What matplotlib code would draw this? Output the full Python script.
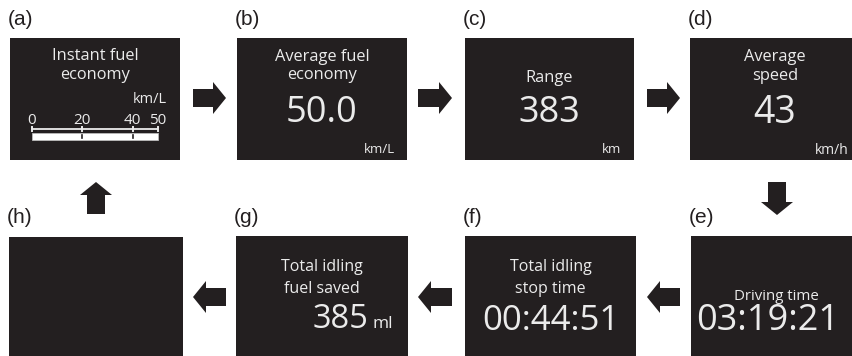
import matplotlib
matplotlib.use("Agg")
import matplotlib.pyplot as plt
from matplotlib.patches import Rectangle, Polygon

# ---------------------------------------------------------------------------
# Content
# ---------------------------------------------------------------------------
panel_labels = ["(a)", "(b)", "(c)", "(d)", "(e)", "(f)", "(g)", "(h)"]
panel_titles = [
    ["Instant fuel", "economy"],
    ["Average fuel", "economy"],
    ["Range"],
    ["Average", "speed"],
    ["Driving time"],
    ["Total idling", "stop time"],
    ["Total idling", "fuel saved"],
    [],
]
panel_values = ["", "50.0", "383", "43", "03:19:21", "00:44:51", "385", ""]
panel_units = ["km/L", "km/L", "km", "km/h", "", "", "ml", ""]
scale_ticks = [0, 20, 40, 50]
scale_max = 50

# ---------------------------------------------------------------------------
# Layout (pixel coordinates, y downwards)
# ---------------------------------------------------------------------------
W, H = 853, 356
box_left = [10, 237, 465, 690, 691, 465, 236, 9]
box_width = [170, 170, 169, 170, 170, 171, 172, 174]
box_top = [38, 38, 38, 38, 236, 236, 236, 237]
box_height = [122, 122, 122, 122, 130, 130, 130, 130]
label_base = [25, 25, 25, 25, 223, 223, 223, 223]

title_base = [[60, 79], [61, 79], [82], [61, 80], [300], [271, 293], [271, 293], []]
value_base = [0, 122, 122, 123, 330, 330, 328, 0]
value_size = [0, 26, 26, 27, 26, 25, 23.5, 0]
value_shift = [0, 0, 0, 0, -8, 0, 0, 0]
unit_base = [103, 153, 153, 154, 0, 0, 328, 0]
unit_size = [10.5, 9.5, 9.5, 10, 0, 0, 12.5, 0]
unit_pad = [13, 12, 13, 11, 0, 0, 0, 0]

BOX = "#231f20"
TXT = "#ebebeb"
UI_FONT = ["Open Sans", "DejaVu Sans"]
LBL_FONT = ["Liberation Sans", "DejaVu Sans"]

fig = plt.figure(figsize=(W / 100, H / 100), dpi=100)
ax = fig.add_axes([0, 0, 1, 1])
ax.set_xlim(0, W)
ax.set_ylim(H, 0)
ax.axis("off")

for i in range(8):
    x0, w, y0, h = box_left[i], box_width[i], box_top[i], box_height[i]
    ax.add_patch(Rectangle((x0, y0), w, h, color=BOX, lw=0))
    ax.text(x0 - 2, label_base[i], panel_labels[i], fontsize=15,
            family=LBL_FONT, color=BOX, va="baseline", ha="left")
    cx = x0 + w / 2
    for line, yb in zip(panel_titles[i], title_base[i]):
        fs = 10.8 if i == 4 else (11.5 if i >= 5 else 11.8)
        ax.text(cx, yb, line, fontsize=fs, family=UI_FONT, color=TXT,
                ha="center", va="baseline")
    if panel_values[i]:
        if i == 6:
            # value and unit share one baseline
            ax.text(x0 + 132, value_base[i], panel_values[i],
                    fontsize=value_size[i], family=UI_FONT, color=TXT,
                    ha="right", va="baseline")
            ax.text(x0 + 137, unit_base[i], panel_units[i],
                    fontsize=unit_size[i], family=UI_FONT, color=TXT,
                    ha="left", va="baseline")
        else:
            ax.text(cx + value_shift[i], value_base[i], panel_values[i],
                    fontsize=value_size[i], family=UI_FONT, color=TXT,
                    ha="center", va="baseline")
    if panel_units[i] and i != 6:
        ax.text(x0 + w - unit_pad[i], unit_base[i], panel_units[i],
                fontsize=unit_size[i], family=UI_FONT, color=TXT,
                ha="right", va="baseline")

# -- instant fuel economy scale in panel (a) --
sx0, sx1 = 32, 158


def sx(v):
    return sx0 + (sx1 - sx0) * v / scale_max


ax.plot([sx(0), sx(scale_max)], [128.5, 128.5], color=TXT, lw=1.3,
        solid_capstyle="butt")
for v in scale_ticks:
    ax.plot([sx(v), sx(v)], [126.5, 131], color=TXT, lw=1.4)
    ax.text(sx(v), 124, str(v), fontsize=11, family=UI_FONT, color=TXT,
            ha="center", va="baseline")
ax.add_patch(Rectangle((sx(0), 133), sx(scale_max) - sx(0), 7,
                       facecolor="white", edgecolor="#bbbbbb", lw=0.6))
for v in scale_ticks[1:-1]:
    ax.plot([sx(v), sx(v)], [135, 138], color=BOX, lw=1.2)


# -- arrows --
def arrow(a, b, c, direction, shaft=9, head=16, hl=13):
    # a..b along the arrow axis, c = centre on the cross axis
    if direction in ("right", "down"):
        s, e, k = a, b, -1
    else:
        s, e, k = b, a, 1
    pts = [(s, c - shaft), (e + k * hl, c - shaft), (e + k * hl, c - head),
           (e, c), (e + k * hl, c + head), (e + k * hl, c + shaft),
           (s, c + shaft)]
    if direction in ("down", "up"):
        pts = [(q, p) for p, q in pts]
    ax.add_patch(Polygon(pts, closed=True, color=BOX, lw=0))


arrow(193, 226, 98, "right")
arrow(418, 452, 98, "right")
arrow(647, 680, 98, "right")
arrow(182, 215, 777, "down")
arrow(647, 680, 297, "left")
arrow(418, 452, 297, "left")
arrow(193, 226, 297, "left")
arrow(182, 214, 96, "up")

fig.savefig("out.png", dpi=100)
